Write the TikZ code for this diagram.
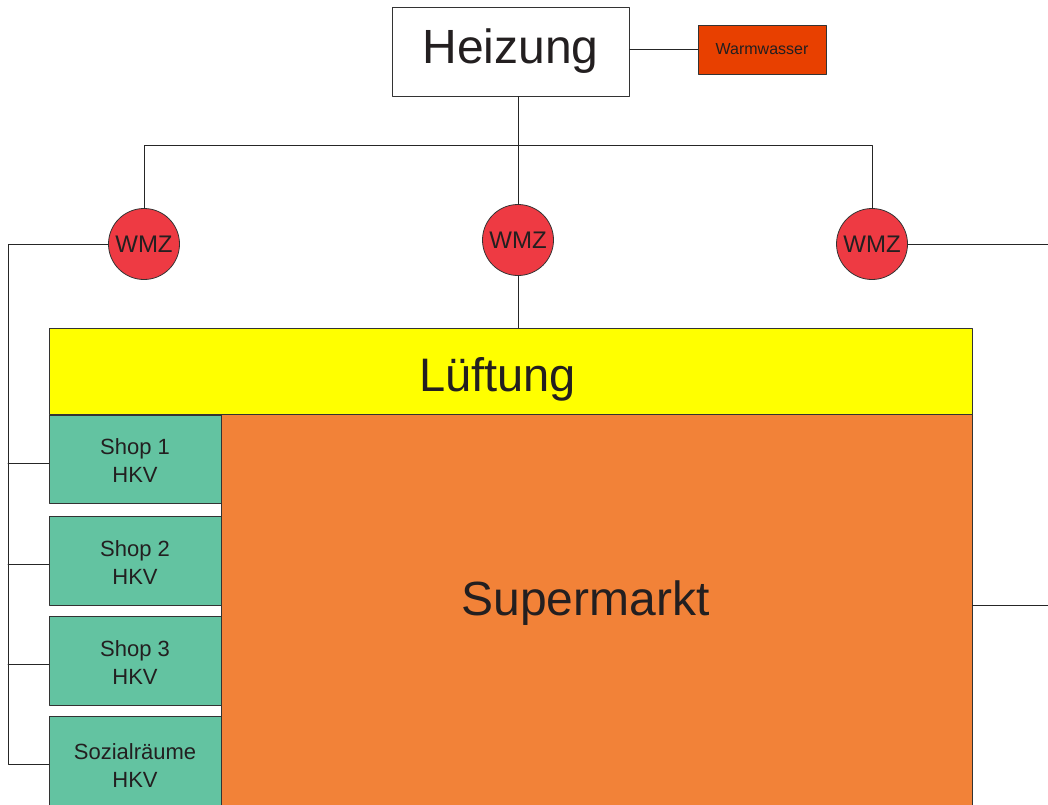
\documentclass[tikz,border=0pt]{standalone}
\usepackage{fontspec}
\setmainfont{Liberation Sans}
\usepackage{tikz}
\usetikzlibrary{positioning}
\definecolor{txtgray}{HTML}{231F20}
\definecolor{wmzred}{HTML}{EE3A43}
\definecolor{wwred}{HTML}{E84000}
\definecolor{lueftgelb}{HTML}{FFFF00}
\definecolor{hkvgruen}{HTML}{63C3A1}
\definecolor{marktorange}{HTML}{F28238}

\begin{document}
\begin{tikzpicture}[line cap=round,line join=round,x=1pt,y=-1pt,
  every node/.style={text=txtgray,inner sep=0pt},
  box/.style={draw=black!80,line width=0.8pt},
  wmz/.style={box,circle,fill=wmzred,minimum size=71pt,font=\fontsize{24}{26}\selectfont},
  hkv/.style={box,fill=hkvgruen,minimum width=172pt,align=center,font=\fontsize{22}{28}\selectfont},
  leitung/.style={draw=black!85,line width=0.8pt}]
\useasboundingbox (0,0) rectangle (1048,804);
\clip (0,0) rectangle (1048,804);
% Erzeugung
\node[box,fill=white,minimum width=237pt,minimum height=89pt,font=\fontsize{48}{50}\selectfont] (heizung) at (510.5,51.5) {Heizung};
\node[box,fill=wwred,minimum width=128pt,minimum height=49pt,font=\fontsize{16}{18}\selectfont] (warmwasser) at (762,49.5) {Warmwasser};
% Zaehler
\node[wmz] (wmzl) at (144,244) {WMZ};
\node[wmz] (wmzm) at (518,240) {WMZ};
\node[wmz] (wmzr) at (872,244) {WMZ};
% Verbraucher
\node[box,fill=lueftgelb,minimum width=923pt,minimum height=86pt,
  label={[xshift=-13pt,yshift=-8pt,font=\fontsize{47}{49}\selectfont,text=txtgray]center:Lüftung}] (lueftung) at (510.5,371) {};
\node[box,fill=marktorange,minimum width=751pt,minimum height=391pt,
  label={[xshift=-11pt,yshift=6pt,font=\fontsize{48}{50}\selectfont,text=txtgray]center:Supermarkt}] (markt) at (596.5,609.5) {};
\node[hkv,minimum height=88pt] (shop1) at (135,459) {\strut Shop 1\\HKV};
\node[hkv,minimum height=89pt] (shop2) at (135,560.5) {\strut Shop 2\\HKV};
\node[hkv,minimum height=89pt] (shop3) at (135,660.5) {\strut Shop 3\\HKV};
\node[hkv,minimum height=100pt] (sozial) at (135,766) {Sozialräume\\HKV};
% Leitungen
\coordinate (verteiler) at (518,145);
\coordinate (linksstrang) at (8,244);
\coordinate (rechtsrand) at (1048,244);
\draw[leitung] (heizung.east |- warmwasser.west) -- (warmwasser.west);
\draw[leitung] (heizung.south -| wmzm) -- (wmzm.north);
\draw[leitung] (wmzl.north) -- (wmzl |- verteiler) -- (wmzr |- verteiler) -- (wmzr.north);
\draw[leitung] (wmzm.south) -- (wmzm |- lueftung.north);
\draw[leitung] (wmzl.west) -- (linksstrang) |- ([yshift=2pt]sozial.west);
\foreach \s in {shop1,shop2,shop3}{
  \coordinate (abzweig) at ([yshift=-4pt]\s.west);
  \draw[leitung] (linksstrang |- abzweig) -- (abzweig);
}
\draw[leitung] (wmzr.east) -- (rechtsrand);
\draw[leitung] ([yshift=4pt]markt.east) -- ([yshift=4pt]markt.east -| rechtsrand);
\end{tikzpicture}
\end{document}
